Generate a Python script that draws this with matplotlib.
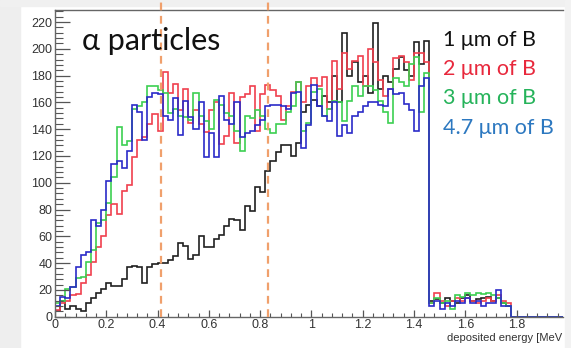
import numpy as np
import matplotlib
matplotlib.use("Agg")
import matplotlib.pyplot as plt
from matplotlib.patches import Rectangle
from matplotlib.ticker import MultipleLocator, FuncFormatter
import matplotlib.transforms as mtransforms

# ---------------- data ----------------
bin_width = 0.02
x_max = 1.98

counts_1um = [4, 12, 6, 8, 6, 4, 10, 14, 18, 21, 25, 23, 23, 28, 37, 38, 37, 25, 37, 39,
              40, 40, 42, 45, 55, 53, 43, 46, 60, 52, 52, 58, 61, 68, 73, 72, 65, 83, 79, 97,
              93, 109, 116, 123, 128, 128, 120, 130, 153, 158, 162, 157, 165, 160, 180, 160, 212, 180, 190, 175,
              180, 167, 219, 170, 180, 175, 185, 194, 184, 180, 205, 189, 206,
              12, 13, 10, 14, 12, 10, 14, 16, 12, 13, 14, 15, 12, 14, 10, 8,
              0, 0, 0, 0, 0, 0, 0, 0, 0, 0]
counts_2um = [5, 10, 12, 16, 17, 25, 31, 41, 52, 60, 76, 84, 77, 94, 98, 119, 132, 134, 144, 151,
              139, 183, 167, 174, 154, 170, 145, 154, 144, 138, 154, 160, 129, 135, 167, 130, 164, 166, 172, 139,
              166, 173, 169, 165, 147, 157, 168, 175, 160, 172, 178, 172, 179, 155, 191, 170, 197, 185, 191, 195,
              172, 200, 190, 177, 165, 170, 193, 195, 190, 177, 197, 197, 190,
              10, 18, 12, 8, 12, 14, 12, 14, 12, 10, 12, 14, 12, 16, 12, 10,
              0, 0, 0, 0, 0, 0, 0, 0, 0, 0]
counts_3um = [10, 12, 21, 22, 29, 30, 41, 50, 70, 72, 85, 104, 142, 128, 131, 155, 157, 160, 172, 172,
              169, 167, 152, 155, 150, 149, 147, 167, 150, 146, 140, 162, 158, 152, 150, 139, 124, 150, 148, 154,
              150, 140, 137, 144, 144, 153, 157, 175, 139, 145, 168, 170, 150, 155, 161, 160, 146, 161, 172, 165,
              172, 172, 169, 161, 153, 145, 178, 175, 172, 189, 194, 153, 182,
              10, 14, 10, 12, 6, 16, 15, 18, 16, 18, 17, 18, 16, 14, 10, 8,
              0, 0, 0, 0, 0, 0, 0, 0, 0, 0]
counts_47um = [8, 15, 14, 22, 37, 46, 48, 72, 68, 80, 101, 114, 116, 111, 124, 158, 153, 132, 164, 167,
               166, 150, 147, 163, 136, 161, 149, 140, 160, 119, 137, 119, 165, 147, 144, 160, 134, 137, 139, 143,
               147, 157, 158, 158, 157, 155, 167, 168, 126, 143, 173, 157, 150, 146, 160, 135, 143, 137, 150, 153,
               157, 160, 160, 158, 157, 170, 166, 167, 159, 154, 139, 172, 178,
               8, 12, 6, 10, 8, 12, 10, 14, 10, 12, 8, 10, 10, 20, 8, 8,
               0, 0, 0, 0, 0, 0, 0, 0, 0, 0]

series_labels = ["1 \u03bcm of B", "2 \u03bcm of B", "3 \u03bcm of B", "4.7 \u03bcm of B"]
cut_energies = [0.415, 0.83]

x_ticks = [0, 0.2, 0.4, 0.6, 0.8, 1.0, 1.2, 1.4, 1.6, 1.8]
y_ticks = list(range(0, 221, 20))

# ---------------- style ----------------
line_colors = ["#202020", "#f0404e", "#3ccf52", "#2b2bc8"]
text_colors = ["#111111", "#e8283c", "#25b35a", "#2c78c0"]
W, H = 571, 348

fig = plt.figure(figsize=(W / 100, H / 100), dpi=100)
fig.patch.set_facecolor("white")
# light grey page border (screenshot shadow)
fig.patches.append(Rectangle((0, 0), 20 / W, 1, transform=fig.transFigure,
                             color="#eeeeee", zorder=-10))
fig.patches.append(Rectangle((0, 1 - 6 / H), 1, 6 / H, transform=fig.transFigure,
                             color="#f0f0f0", zorder=-10))
fig.patches.append(Rectangle((565 / W, 0), 6 / W, 1, transform=fig.transFigure,
                             color="#f2f2f2", zorder=-10))

ax_l, ax_r, ax_t, ax_b = 55, 562.7, 10, 316.7
ax = fig.add_axes([ax_l / W, 1 - ax_b / H, (ax_r - ax_l) / W, (ax_b - ax_t) / H])
ax.set_facecolor("white")

n_bins = len(counts_1um)
edges = np.arange(n_bins + 1) * bin_width

for cnts, col in zip([counts_1um, counts_2um, counts_3um, counts_47um], line_colors):
    ax.stairs(cnts, edges, color=col, linewidth=1.2, baseline=None)

ax.set_xlim(0, x_max)
ax.set_ylim(0, 229)

# cut lines (extend above the frame)
trans = mtransforms.blended_transform_factory(ax.transData, ax.transAxes)
for xc in cut_energies:
    ax.plot([xc, xc], [0, 1 + 10 / (ax_b - ax_t)], transform=trans, color="#f0a06c",
            linewidth=1.6, linestyle=(0, (3.5, 2.5)), clip_on=False, zorder=5)

for s in ["left", "bottom", "top"]:
    ax.spines[s].set_color("#666666")
    ax.spines[s].set_linewidth(1.0)
ax.spines["right"].set_visible(False)

ax.xaxis.set_major_locator(MultipleLocator(0.2))
ax.xaxis.set_minor_locator(MultipleLocator(0.04))
ax.yaxis.set_major_locator(MultipleLocator(20))
ax.yaxis.set_minor_locator(MultipleLocator(4))
ax.set_xticks(x_ticks)
ax.set_yticks(y_ticks)
ax.xaxis.set_major_formatter(FuncFormatter(lambda v, p: "%g" % round(v, 2)))
ax.yaxis.set_major_formatter(FuncFormatter(lambda v, p: "%g" % v))

ax.tick_params(axis="y", which="major", direction="in", length=10.8, width=0.9,
               color="#555555", labelsize=9, labelcolor="#333333", pad=2, right=False)
ax.tick_params(axis="y", which="minor", direction="in", length=5.5, width=0.8,
               color="#555555", right=False)
ax.tick_params(axis="x", which="major", direction="in", length=5, width=0.9,
               color="#555555", labelsize=9, labelcolor="#333333", pad=2, top=False)
ax.tick_params(axis="x", which="minor", direction="in", length=2.7, width=0.8,
               color="#555555", top=False)
for lab in ax.get_xticklabels() + ax.get_yticklabels():
    lab.set_fontfamily("Liberation Sans")

fig.text(562 / W, 1 - 338 / H, "deposited energy [MeV", ha="right", va="center",
         fontsize=8, color="#333333", family="Liberation Sans")

fig.text(82 / W, 1 - 41 / H, "\u03b1 particles", ha="left", va="center",
         fontsize=22, color="#111111", family="Lato")

leg_y = [39.5, 69, 98.5, 128.5]
for lab, col, yy in zip(series_labels, text_colors, leg_y):
    fig.text(443 / W, 1 - yy / H, lab, ha="left", va="center", fontsize=15.5,
             color=col, family="Lato")

fig.savefig("out.png", dpi=100)
